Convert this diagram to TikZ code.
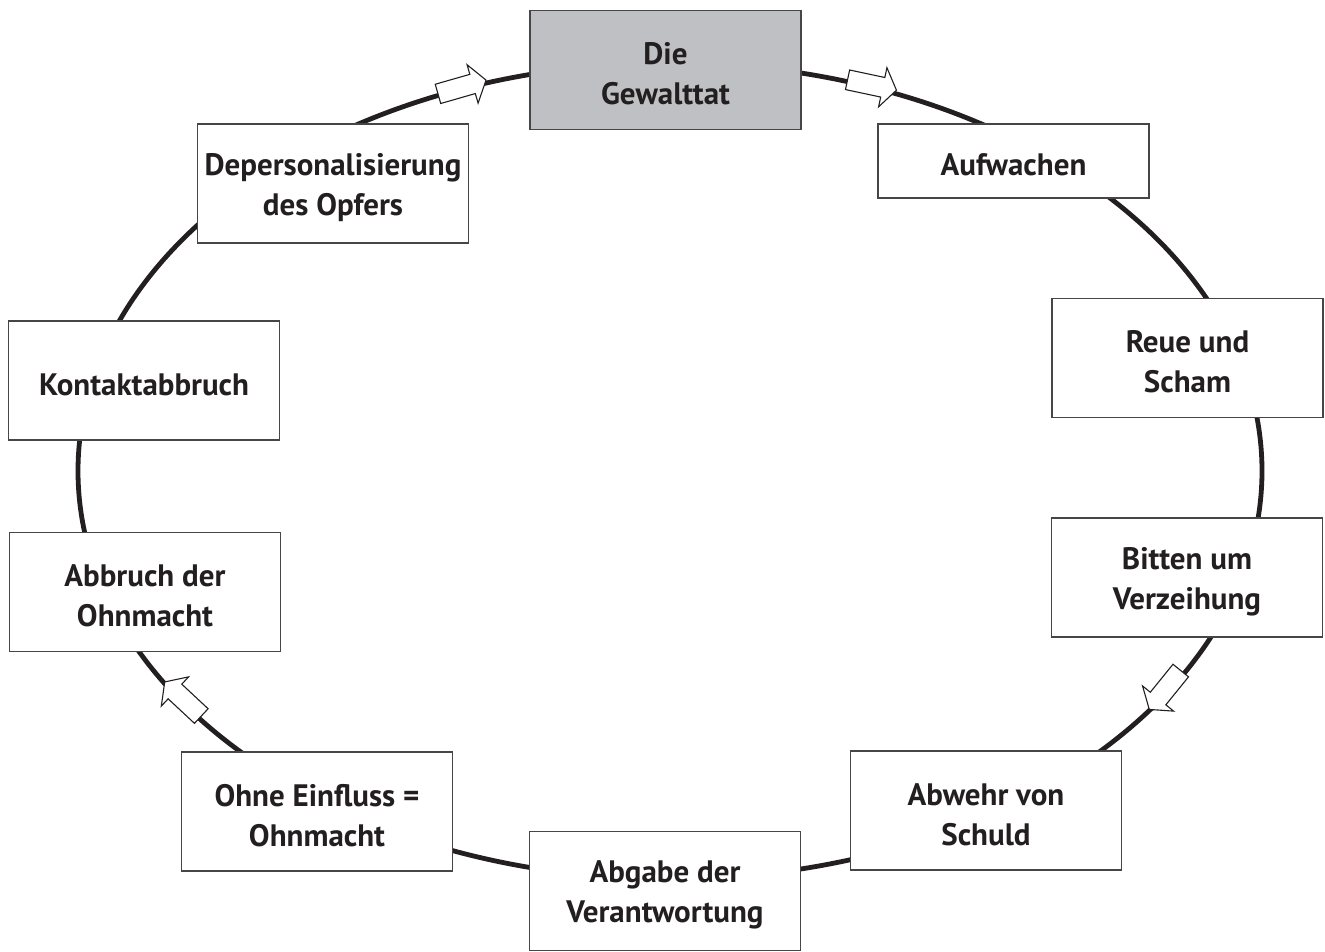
\documentclass[tikz,border=0pt]{standalone}
\usepackage{fontspec}
\setmainfont{PT Sans}
\definecolor{ink}{RGB}{35,31,32}
\definecolor{boxline}{RGB}{70,70,70}
\definecolor{graybox}{RGB}{191,192,196}
\newcommand\hollowarrow[4]{%
  \begin{scope}[shift={(#1,#2)},rotate=#3]
    \draw[arrowshape] (-25,-10) -- (11,-10) -- (11,-20) -- (25,0) -- (11,20) -- (11,10) -- (-25,10) -- cycle;
    \coordinate (#4) at (0,0);
  \end{scope}}
\begin{document}
\begin{tikzpicture}[x=1pt,y=1pt,
  ring/.style={line width=4.8pt, draw=ink},
  stage/.style={draw=boxline, line width=1.4pt, fill=white, minimum width=271pt, minimum height=119pt, inner sep=0pt},
  stagetext/.style={align=center, font=\fontsize{31}{40}\selectfont\bfseries, text=ink, inner sep=0pt},
  arrowshape/.style={draw=ink, fill=white, line width=1.1pt, line join=miter}]
\useasboundingbox (0,0) rectangle (1325,952);
\draw[ring] (670,481) ellipse [x radius=592, y radius=408];
\hollowarrow{462}{865}{16}{a1}
\hollowarrow{872}{867}{-12}{a2}
\hollowarrow{1165}{262}{-129}{a3}
\hollowarrow{183}{253}{137}{a4}
\node[stage, fill=graybox] (gewalt) at (665.5,882) {};
\node[stage, minimum height=74pt] (auf) at (1013.5,791) {};
\node[stage] (deper) at (333,768.5) {};
\node[stage] (reue) at (1187.5,594) {};
\node[stage] (kontakt) at (144,571.5) {};
\node[stage] (bitten) at (1187,374.5) {};
\node[stage] (abbruch) at (145,360) {};
\node[stage] (ohne) at (317,140.5) {};
\node[stage] (abwehr) at (986,141.5) {};
\node[stage] (abgabe) at (665,61) {};
\node[stagetext] (gewalt-t) at ([yshift=-4pt]gewalt.center) {Die\\Gewalttat};
\node[stagetext] (auf-t) at ([yshift=-4pt]auf.center) {Aufwachen};
\node[stagetext] (deper-t) at ([yshift=-4pt]deper.center) {Depersonalisierung\\des Opfers};
\node[stagetext] (reue-t) at ([yshift=-4pt]reue.center) {Reue und\\Scham};
\node[stagetext] (kontakt-t) at ([yshift=-4pt]kontakt.center) {Kontaktabbruch};
\node[stagetext] (bitten-t) at ([yshift=-4pt]bitten.center) {Bitten um\\Verzeihung};
\node[stagetext] (abbruch-t) at ([yshift=-4pt]abbruch.center) {Abbruch der\\Ohnmacht};
\node[stagetext] (ohne-t) at ([yshift=-4pt]ohne.center) {Ohne Einfluss =\\Ohnmacht};
\node[stagetext] (abwehr-t) at ([yshift=-4pt]abwehr.center) {Abwehr von\\Schuld};
\node[stagetext] (abgabe-t) at ([yshift=-4pt]abgabe.center) {Abgabe der\\Verantwortung};
\end{tikzpicture}
\end{document}
